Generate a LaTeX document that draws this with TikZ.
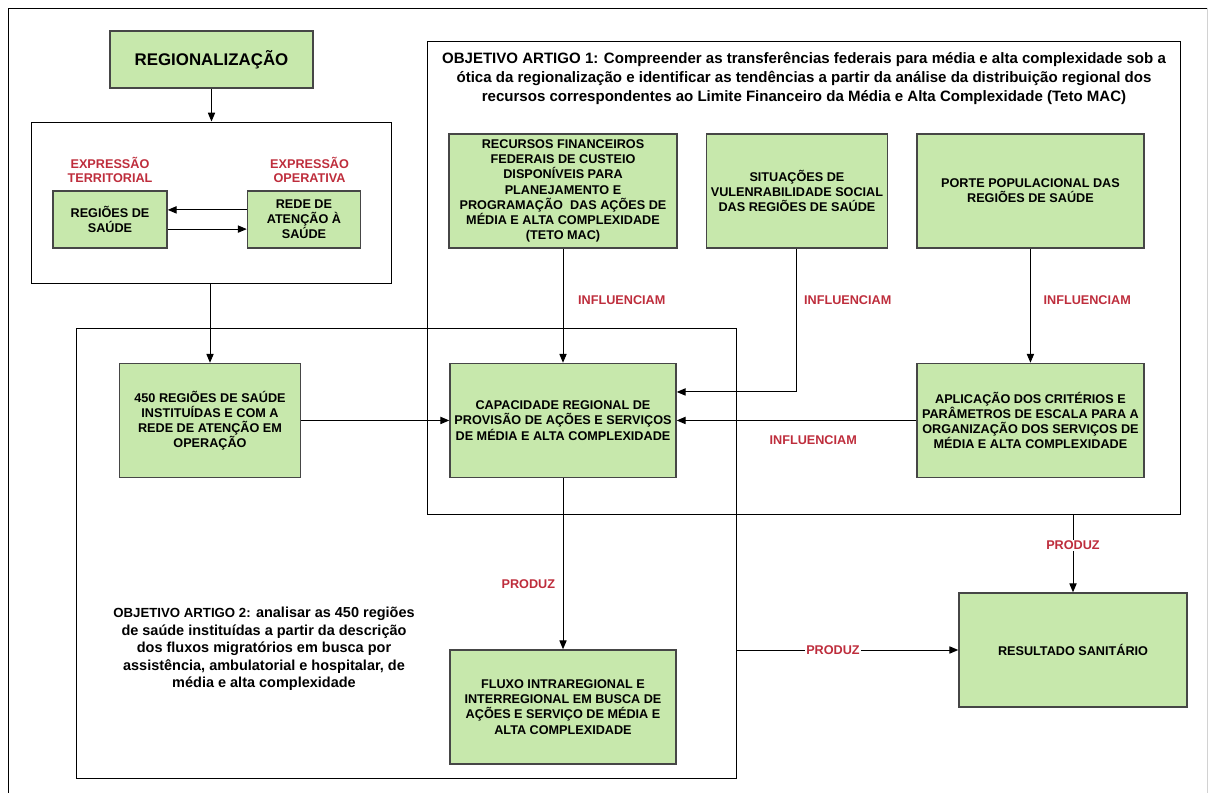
\documentclass[tikz,border=0pt]{standalone}
\usepackage{fontspec}
\setmainfont{Liberation Sans}
\usetikzlibrary{positioning, arrows.meta, fit, calc}
\usepackage{xcolor}

\definecolor{boxgreen}{RGB}{199,232,172}
\definecolor{boxline}{RGB}{70,70,70}
\definecolor{lblred}{RGB}{190,45,60}

\begin{document}
\begin{tikzpicture}[
  x=0.025cm, y=-0.025cm,
  box/.style={rectangle, draw=boxline, fill=boxgreen, line width=1pt,
              minimum width=#1, minimum height=2.85cm, align=center,
              inner sep=2pt, font=\fontsize{9}{10.8}\selectfont\bfseries},
  smallbox/.style={box=#1, minimum height=1.425cm},
  frame/.style={rectangle, draw=black, line width=0.7pt, inner sep=0pt},
  objtext/.style 2 args={align=center, font=\fontsize{#1}{#2}\selectfont\bfseries},
  lbl/.style={font=\fontsize{9}{10.5}\selectfont\bfseries, text=lblred, align=center},
  arrow/.style={-{Triangle[length=0.22cm, width=0.18cm]}, line width=0.7pt, draw=black}
]
\useasboundingbox (0,0) rectangle (1208,793);

% ==================== OUTER FRAME ====================
\draw[line width=0.7pt] (8,793) -- (8,8) -- (1207,8);
\draw[gray!35, line width=0.7pt] (1207,8) -- (1207,793);

% ==================== REGIONALIZACAO ====================
\node[smallbox=5.075cm, font=\fontsize{12}{14}\selectfont\bfseries] (reg) at (211.5,59.5) {REGIONALIZAÇÃO};
\node[frame, fit={(31,122) (391,283)}] (regframe) {};
\node[smallbox=2.85cm] (regioes) at (110,219.5) {REGIÕES DE\\SAÚDE};
\node[smallbox=2.825cm, right=1.975cm of regioes] (rede) {REDE DE\\ATENÇÃO À\\SAÚDE};
\node[lbl, above=0.06cm of regioes] (territ) {EXPRESSÃO\\TERRITORIAL};
\node[lbl, above=0.06cm of rede, xshift=0.14cm] (operat) {EXPRESSÃO\\OPERATIVA};

% ==================== OBJETIVO ARTIGO 1 ====================
\node[frame, fit={(427,41) (1180,514)}] (obj1) {};
\node[objtext={10.7}{13.5}] (obj1txt) at (804,78)
  {OBJETIVO ARTIGO 1: Compreender as transferências federais para média e alta complexidade sob a\\
   ótica da regionalização e identificar as tendências a partir da análise da distribuição regional dos\\
   recursos correspondentes ao Limite Financeiro da Média e Alta Complexidade (Teto MAC)};
\node[box=5.7cm] (rec) at (563,191)
  {RECURSOS FINANCEIROS\\FEDERAIS DE CUSTEIO\\DISPONÍVEIS PARA\\PLANEJAMENTO E\\
   PROGRAMAÇÃO~ DAS AÇÕES DE\\MÉDIA E ALTA COMPLEXIDADE\\(TETO MAC)};
\node[box=4.525cm, right=0.7cm of rec] (sit) {SITUAÇÕES DE\\VULENRABILIDADE SOCIAL\\DAS REGIÕES DE SAÚDE};
\node[box=5.675cm, right=0.7cm of sit] (porte) {PORTE POPULACIONAL DAS\\REGIÕES DE SAÚDE};
\node[box=5.65cm, below=2.85cm of rec] (cap)
  {CAPACIDADE REGIONAL DE\\PROVISÃO DE AÇÕES E SERVIÇOS\\DE MÉDIA E ALTA COMPLEXIDADE};
\node[box=5.675cm, below=2.85cm of porte] (apl)
  {APLICAÇÃO DOS CRITÉRIOS E\\PARÂMETROS DE ESCALA PARA A\\ORGANIZAÇÃO DOS SERVIÇOS DE\\MÉDIA E ALTA COMPLEXIDADE};

% ==================== OBJETIVO ARTIGO 2 ====================
\node[frame, fit={(76,328) (736,778)}] (obj2) {};
\node[box=4.525cm, left=3.7cm of cap] (b450)
  {450 REGIÕES DE SAÚDE\\INSTITUÍDAS E COM A\\REDE DE ATENÇÃO EM\\OPERAÇÃO};
\node[box=5.65cm, below=4.275cm of cap] (fluxo)
  {FLUXO INTRAREGIONAL E\\INTERREGIONAL EM BUSCA DE\\AÇÕES E SERVIÇO DE MÉDIA E\\ALTA COMPLEXIDADE};
\node[objtext={10.3}{12.4}] (obj2txt) at (264,649)
  {{\fontsize{9.4}{12.4}\selectfont OBJETIVO ARTIGO 2:} analisar as 450 regiões\\de saúde instituídas a partir da descrição\\
   dos fluxos migratórios em busca por\\assistência, ambulatorial e hospitalar, de\\média e alta complexidade};

\node[box=5.7cm] (res) at (1073,650) {RESULTADO SANITÁRIO};

% ==================== ARROWS ====================
\draw[arrow] (reg.south) -- (reg.south |- regframe.north);
\draw[arrow] ([yshift=0.24cm]rede.west) -- ([yshift=0.24cm]regioes.east);
\draw[arrow] ([yshift=-0.24cm]regioes.east) -- ([yshift=-0.24cm]rede.west);
\draw[arrow] (regframe.south -| b450.north) -- (b450.north);

\draw[arrow] (rec) -- node[lbl, right=0.25cm, pos=0.45]{INFLUENCIAM} (cap);
\draw[arrow] (sit.south) |- node[lbl, pos=0.18, right=0.05cm]{INFLUENCIAM} ([yshift=0.7125cm]cap.east);
\draw[arrow] (porte) -- node[lbl, right=0.2cm, pos=0.45]{INFLUENCIAM} (apl);
\draw[arrow] (apl) -- node[lbl, below=0.25cm, pos=0.43]{INFLUENCIAM} (cap);
\draw[arrow] (b450) -- (cap);

\draw[arrow] (cap) -- node[lbl, left=0.07cm, pos=0.62]{PRODUZ} (fluxo);
\draw[arrow] (res.north |- obj1.south) -- node[lbl, fill=white, inner sep=1pt, pos=0.4]{PRODUZ} (res.north);
\draw[arrow] (obj2.east |- res.west) -- node[lbl, fill=white, inner sep=1pt, pos=0.435]{PRODUZ} (res.west);

\end{tikzpicture}
\end{document}
